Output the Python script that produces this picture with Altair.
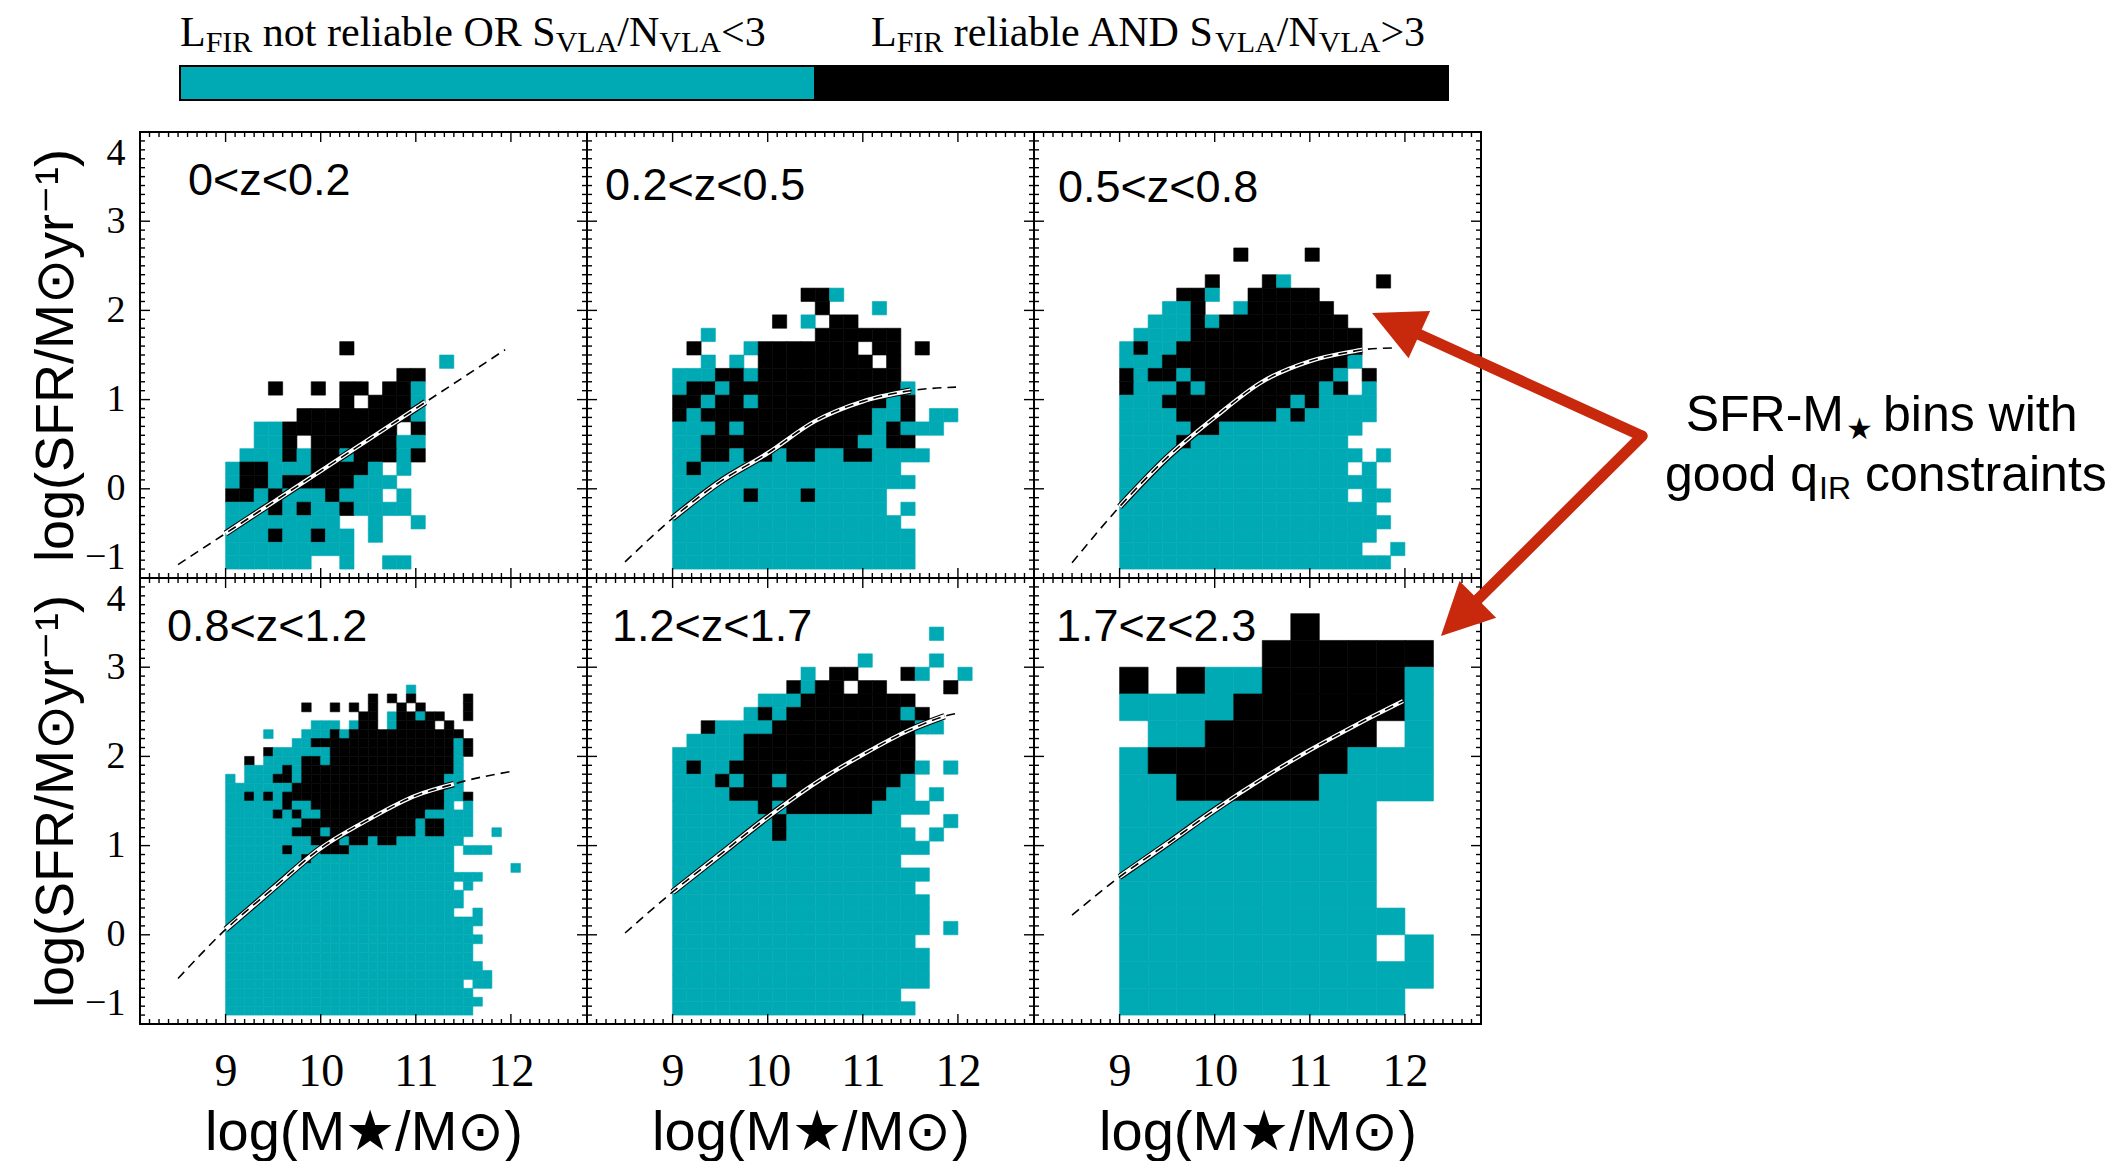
import altair as alt
import numpy as np
import pandas as pd

# ------------------------------------------------------------------
# values
# ------------------------------------------------------------------
status_names = ["L_FIR not reliable OR S/N<3", "L_FIR reliable AND S/N>3"]
status_colors = ["#00aab4", "#000000"]

panel_labels = ["0<z<0.2", "0.2<z<0.5", "0.5<z<0.8",
                "0.8<z<1.2", "1.2<z<1.7", "1.7<z<2.3"]

# SFR-M* bins: lower-left corner of the grid and bin size (dex) per panel
bin_x0 = [9.0, 9.0, 9.0, 9.0, 9.0, 9.0]
bin_y0 = [-0.9, -0.9, -0.9, -0.9, -0.9, -0.9]
bin_size = [0.15, 0.15, 0.15, 0.10, 0.15, 0.30]

# bin status, top row first: c = cyan (not reliable), k = black (reliable), . = empty
grid_z1 = [
    "........k.......",
    "...............c",
    "............kk..",
    "...k..k.kk.kkc..",
    "........k.kkkc..",
    ".....kkkkkkkkc..",
    "..cckkkkkkkk.k..",
    "..cck.kkkkkkcc..",
    ".ccckckkckkkck..",
    "ckkccckkkkc.c...",
    "ckkckkkkkccc....",
    "kkckccckccc.c...",
    "ccckckcckcccc...",
    "cccccccc..c..c..",
    "ccckcckcc.c.....",
    "ccccccccc.......",
    "cccccc..c..cc...",
]
grid_z2 = [
    ".........kkc........",
    "..........k...c.....",
    ".......k.c.kk.......",
    "..c.......kkkkkk....",
    ".k...ckkkkkkk.kk.k..",
    "..c.c.kkkkkkkk.k....",
    "ccckkckkkkkkkkkk....",
    "ckkckkkkkkkkkkkkc...",
    "kkckkckkkkkkkkkck...",
    "kckkkkkkkkkkkkcck.cc",
    "ccckckkkkkkkkkckccc.",
    "cckkkkkkkkkkkcckk...",
    "cckkckkckkcckkcccc..",
    "ckcccccccccccccc....",
    "ccccccccccccccccc...",
    "ccccckccckccccc.....",
    "ccccccccccccccc.c...",
    "cccccccccccccccc....",
    "ccccccccccccccccc...",
    "ccccccccccccccccc...",
    "ccccccccccccccccc...",
]
grid_z3 = [
    "........k....k......",
    "....................",
    "......k...kc......k.",
    "....kkc..kkkkk......",
    "...cck..ckkkkkk.....",
    "..ccckckkkkkkkkk....",
    ".cccckkkkkkkkkkkk...",
    "ckcckkkkkkkkkkkkk...",
    "ccckkkkkkkkkkkkkc...",
    "kckkckkkkkkkkkkc.k..",
    "kccckckkkkkkkkck.c..",
    "ccckkkkkkkkkckcccc..",
    "cccckkkkkkkckccccc..",
    "ccccckkcccccccccc...",
    "cccckccccccccccc....",
    "ccccccccccccccccc.c.",
    "cccccccccccccccc.c..",
    "cccccccccccccccccc..",
    "cccccccccccccccc.cc.",
    "cccccccccccccccccc..",
    "ccccccccccccccccccc.",
    "cccccccccccccccccc..",
    "ccccccccccccccccc..c",
    "ccccccccccccccccccc.",
]
grid_z4 = [
    "...................c............",
    "...............k.k.k.....k......",
    "........k..k.k.k..k.k....k......",
    "..............kk.ckkckk..k......",
    ".........ccc.ckk.ckkkk.k........",
    "....c...ccckckkkkkkkkkkkk.......",
    ".......cckkkkkkkkkkkkkkkck......",
    "....kcccccckkkkkkkkkkkkkck......",
    "..k.cccckkckkkkkkkkkkkkkc.......",
    "..cccckckkkkkkkkkkkkkkkkc.......",
    "c.ccckkckkkkkkkkkkkkkkkcc.......",
    "ccccccckkkkkkkkkkkkkkkkcc.......",
    "cckckckkkkkkkkkkkkkkkkkcck......",
    "cccccckcckkkkkkkkkkkkkkc.c......",
    "ccccckckcckkkkkkkkkkkccccc......",
    "cccccccckkkkkkkkkkkkckkccc......",
    "ccccccckkkckkkkkkkkkckkccc..c...",
    "ccccccccckkkckkckkccccccc.......",
    "cccccckccckkkccccccccccc.ccc....",
    "cccccccckccccccccccccccc........",
    "cccccccccccccccccccccccc......c.",
    "ccccccccccccccccccccccccccc.....",
    "cccccccccccccccccccccccc.c......",
    "ccccccccccccccccccccccccc.......",
    "ccccccccccccccccccccccccc.......",
    "cccccccccccccccccccccccc..c.....",
    "ccccccccccccccccccccccccccc.....",
    "cccccccccccccccccccccccccc......",
    "ccccccccccccccccccccccccccc.....",
    "cccccccccccccccccccccccccc......",
    "cccccccccccccccccccccccccc......",
    "ccccccccccccccccccccccccccc.....",
    "cccccccccccccccccccccccccccc....",
    "ccccccccccccccccccccccccc.cc....",
    "cccccccccccccccccccccccccc......",
    "ccccccccccccccccccccccccccc.....",
    "cccccccccccccccccccccccccc......",
]
grid_z5 = [
    "..................c..",
    ".....................",
    ".............c....c..",
    ".........c.kk...kc..c",
    "........kckk.kk....k.",
    "......ccckkkkkkkk....",
    ".....ckckkkkkkkkck...",
    "..kcccckkkkkkkkkkcc..",
    ".cccckkkkkkkkkkkk....",
    "ccccckkkkkkkkkkkk....",
    "ckcckkkkkkkkkkkkkc.c.",
    "ccckckkckkkkkkkkc....",
    "cccckkkkkkkkkkkcc.c..",
    "cccccckckkkkkkcccc...",
    "ccccccckcccccccc...c.",
    "ccccccckccccccccc.c..",
    "cccccccccccccccccc...",
    "cccccccccccccccc.....",
    "cccccccccccccccccc...",
    "ccccccccccccccccc....",
    "cccccccccccccccccc...",
    "cccccccccccccccccc...",
    "cccccccccccccccccc.c.",
    "ccccccccccccccccc....",
    "cccccccccccccccccc...",
    "cccccccccccccccccc...",
    "cccccccccccccccccc...",
    "cccccccccccccccc.....",
    "ccccccccccccccccc....",
]
grid_z6 = [
    "......k....",
    ".....kkkkkk",
    "k.kcckkkkkc",
    "cccckkkkkkc",
    ".cckkkkkk.c",
    "ckkkkkkkccc",
    "cckkkkkcccc",
    "ccccccccc..",
    "ccccccccc..",
    "ccccccccc..",
    "ccccccccc..",
    "cccccccccc.",
    "ccccccccc.c",
    "ccccccccccc",
    "cccccccccc.",
]

# main-sequence curves (dashed)
ms_x_z1 = [8.5, 9.0, 9.5, 10.0, 10.5, 11.0, 11.1, 11.5, 11.94]
ms_y_z1 = [-0.85, -0.50, -0.15, 0.20, 0.55, 0.90, 0.97, 1.25, 1.56]
ms_x_z2 = [8.5, 9.0, 9.5, 10.0, 10.5, 11.0, 11.5, 11.98]
ms_y_z2 = [-0.82, -0.33, 0.08, 0.40, 0.76, 0.98, 1.10, 1.14]
ms_x_z3 = [8.5, 9.0, 9.5, 10.0, 10.5, 11.0, 11.5, 11.55, 11.89]
ms_y_z3 = [-0.83, -0.20, 0.35, 0.80, 1.20, 1.43, 1.55, 1.56, 1.58]
ms_x_z4 = [8.5, 9.0, 9.5, 10.0, 10.5, 11.0, 11.4, 11.5, 12.0]
ms_y_z4 = [-0.49, 0.06, 0.52, 0.97, 1.29, 1.56, 1.69, 1.72, 1.83]
ms_x_z5 = [8.5, 9.0, 9.5, 10.0, 10.5, 11.0, 11.5, 11.86, 11.98]
ms_y_z5 = [0.02, 0.48, 0.90, 1.32, 1.70, 2.02, 2.30, 2.45, 2.48]
ms_x_z6 = [8.5, 9.0, 9.5, 10.0, 10.5, 11.0, 11.5, 11.98]
ms_y_z6 = [0.22, 0.65, 1.02, 1.40, 1.75, 2.07, 2.36, 2.62]
# range over which the curve is highlighted (white band)
ms_white_from = [9.0, 9.0, 9.0, 9.0, 9.0, 9.0]
ms_white_to = [11.1, 11.5, 11.55, 11.4, 11.86, 11.98]

x_tick_labels = [9, 10, 11, 12]
y_tick_labels = [-1, 0, 1, 2, 3, 4]

legend_left = [("L", 0), ("FIR", 1), (" not reliable OR S", 0), ("VLA", 1),
               ("/N", 0), ("VLA", 1), ("<3", 0)]
legend_right = [("L", 0), ("FIR", 1), (" reliable AND S", 0), ("VLA", 1),
                ("/N", 0), ("VLA", 1), (">3", 0)]

GRIDS = [grid_z1, grid_z2, grid_z3, grid_z4, grid_z5, grid_z6]
MS_X = [ms_x_z1, ms_x_z2, ms_x_z3, ms_x_z4, ms_x_z5, ms_x_z6]
MS_Y = [ms_y_z1, ms_y_z2, ms_y_z3, ms_y_z4, ms_y_z5, ms_y_z6]

# ------------------------------------------------------------------
# layout / style constants
# ------------------------------------------------------------------
RED = "#c8280c"
PW, PH = 447, 446
PADL = 28
PANEL_LEFT = 140          # page x of the first panel (origin of the left block)
ANN_X0 = 1300             # page x of the annotation block
GRID_RIGHT = PANEL_LEFT + 3 * PW + 1
SERIF = "Liberation Serif"
SANS = "Liberation Sans"
LABEL_POS = [(48, 63), (18, 68), (24, 70), (27, 63), (25, 63), (22, 63)]
# Times / Liberation Serif advance widths (1/1000 em) for the legend text
TIMES_W = {" ": 250, "a": 444, "b": 500, "e": 444, "i": 278, "l": 278, "n": 500,
           "o": 500, "r": 333, "t": 278, "A": 722, "D": 722, "F": 556, "I": 333,
           "L": 611, "N": 722, "O": 722, "R": 667, "S": 556, "V": 722, "/": 278,
           "<": 564, ">": 564, "3": 500}

XS = alt.Scale(domain=[8.1, 12.8], nice=False, zero=False)
YS = alt.Scale(domain=[-1, 4], nice=False, zero=False)
CS = alt.Scale(domain=status_names, range=status_colors)

X_AXIS = alt.Axis(values=x_tick_labels, ticks=False, tickSize=0, domain=False, grid=False,
                  labelFont=SERIF, labelFontSize=46, labelColor="black",
                  labelPadding=25, labelOverlap=False, labelFlush=False,
                  title="log(M★/M⊙)", titleFont=SANS, titleFontSize=56,
                  titleFontWeight="normal", titleColor="black", titlePadding=11)
Y_AXIS = alt.Axis(values=y_tick_labels, ticks=False, tickSize=0, domain=False, grid=False,
                  labelFont=SERIF, labelFontSize=38, labelColor="black",
                  labelPadding=15, labelOverlap=False, labelFlush=True,
                  labelFlushOffset=-2,
                  title="log(SFR/M⊙yr⁻¹)", titleFont=SANS, titleFontSize=54,
                  titleFontWeight="normal", titleColor="black", titlePadding=1)

ONE = pd.DataFrame({"o": [0]})


def cell_table(grid, x0, y0, size):
    recs = []
    n = len(grid)
    for i, line in enumerate(grid):
        r = n - 1 - i
        for c, ch in enumerate(line):
            if ch == ".":
                continue
            recs.append({"m0": x0 + c * size, "m1": x0 + (c + 1) * size,
                         "s0": y0 + r * size, "s1": y0 + (r + 1) * size,
                         "flag": status_names[0] if ch == "c" else status_names[1]})
    return pd.DataFrame(recs)


def txt(s, x, y, size, font, align="left", color="black"):
    return alt.Chart(ONE).mark_text(text=s, align=align, baseline="alphabetic",
                                    font=font, fontSize=size, color=color).encode(
        x=alt.value(x), y=alt.value(y))


minor_x = [round(v, 1) for v in np.arange(8.2, 12.75, 0.1) if abs(v - round(v)) > 1e-6]
minor_y = [round(v, 1) for v in np.arange(-0.9, 3.95, 0.1) if abs(v - round(v)) > 1e-6]
major_x = [9, 10, 11, 12]
major_y = [0, 1, 2, 3]
TW = 1.4   # tick stroke width
TI = 0.7   # tick inset so that ticks stay inside the frame


def panel(k):
    row, col = divmod(k, 3)
    xa = X_AXIS if row == 1 else None
    ya = Y_AXIS if col == 0 else None

    def X(f):
        return alt.X(f"{f}:Q", scale=XS, axis=xa)

    def Y(f):
        return alt.Y(f"{f}:Q", scale=YS, axis=ya)

    cells = cell_table(GRIDS[k], bin_x0[k], bin_y0[k], bin_size[k])
    rect = alt.Chart(cells).mark_rect(strokeWidth=0.6).encode(
        x=X("m0"), x2="m1", y=Y("s0"), y2="s1",
        color=alt.Color("flag:N", scale=CS, legend=None),
        stroke=alt.Stroke("flag:N", scale=CS, legend=None))

    cur = pd.DataFrame({"m": MS_X[k], "s": MS_Y[k]})
    wh = cur[(cur.m >= ms_white_from[k] - 1e-9) & (cur.m <= ms_white_to[k] + 1e-9)]
    outline = alt.Chart(wh).mark_line(color="black", strokeWidth=6.4, interpolate="monotone").encode(
        x=X("m"), y=Y("s"))
    white = alt.Chart(wh).mark_line(color="white", strokeWidth=4.2, interpolate="monotone").encode(
        x=X("m"), y=Y("s"))
    dash = alt.Chart(cur).mark_line(color="black", strokeWidth=1.6, strokeDash=[9, 6],
                                    interpolate="monotone").encode(x=X("m"), y=Y("s"))

    ticks = []
    for vals, ln in ((major_x, 10), (minor_x, 5)):
        d = pd.DataFrame({"m": vals})
        ticks.append(alt.Chart(d).mark_rule(color="black", strokeWidth=TW).encode(
            x=X("m"), y=alt.value(PH - TI), y2=alt.value(PH - ln)))
        ticks.append(alt.Chart(d).mark_rule(color="black", strokeWidth=TW).encode(
            x=X("m"), y=alt.value(TI), y2=alt.value(ln)))
    for vals, ln in ((major_y, 10), (minor_y, 5)):
        d = pd.DataFrame({"s": vals})
        ticks.append(alt.Chart(d).mark_rule(color="black", strokeWidth=TW).encode(
            y=Y("s"), x=alt.value(TI), x2=alt.value(ln)))
        ticks.append(alt.Chart(d).mark_rule(color="black", strokeWidth=TW).encode(
            y=Y("s"), x=alt.value(PW - TI), x2=alt.value(PW - ln)))

    lab = txt(panel_labels[k], LABEL_POS[k][0], LABEL_POS[k][1], 45, SANS)

    return alt.layer(rect, outline, white, dash, *ticks, lab).properties(
        width=PW, height=PH, view=alt.ViewBackground(stroke="black", strokeWidth=2))


# ---------------- legend bar on top ----------------
bar = pd.DataFrame({"flag": status_names, "lo": [0, 1], "hi": [1, 2]})
LX = alt.Scale(domain=[0, 2], range=[180 - PANEL_LEFT, 1448 - PANEL_LEFT])
bar_rect = alt.Chart(bar).mark_rect().encode(
    x=alt.X("lo:Q", scale=LX, axis=None), x2="hi",
    y=alt.value(65), y2=alt.value(99),
    color=alt.Color("flag:N", scale=CS, legend=None))
bar_border = alt.Chart(pd.DataFrame({"lo": [0], "hi": [2]})).mark_rect(
    fillOpacity=0, stroke="black", strokeWidth=2).encode(
    x=alt.X("lo:Q", scale=LX, axis=None), x2="hi",
    y=alt.value(65), y2=alt.value(99))


def serif_pieces(pieces, x_start, y_main, y_sub, fs_main, fs_sub):
    out = []
    curx = x_start
    for s, sub in pieces:
        fs = fs_sub if sub else fs_main
        lead = len(s) - len(s.lstrip(" "))
        out.append(txt(s.strip(" "), curx + lead * 0.25 * fs - PANEL_LEFT,
                       y_sub if sub else y_main, fs, SERIF))
        curx += sum(TIMES_W.get(ch, 500) for ch in s) / 1000.0 * fs
    return out


legend_txt = serif_pieces(legend_left, 180, 45, 51, 42, 30) + \
    serif_pieces(legend_right, 871, 45, 51, 42, 30)
legend = alt.layer(bar_rect, bar_border, *legend_txt).properties(
    width=1300, height=120, view=alt.ViewBackground(stroke="transparent"))

# ---------------- annotation (arrows + text) ----------------
V = (1641, 435)
H1 = (1394.7, 322.8)
H2 = (1458.4, 616.7)
HEAD = "M0,-1L1,1L-1,1Z"


def seg(a, b):
    return alt.Chart(ONE).mark_rule(color=RED, strokeWidth=11, strokeCap="round").encode(
        x=alt.value(a[0] - ANN_X0), y=alt.value(a[1]),
        x2=alt.value(b[0] - ANN_X0), y2=alt.value(b[1]))


def head(c, ang):
    return alt.Chart(ONE).mark_point(shape=HEAD, size=2700, angle=ang, filled=True,
                                     color=RED, opacity=1, strokeWidth=0).encode(
        x=alt.value(c[0] - ANN_X0), y=alt.value(c[1]))


ann_layers = [
    seg(V, H1), seg(V, H2), head(H1, 294.5), head(H2, 225.2),
    txt("SFR-M", 1843 - ANN_X0, 430, 50, SANS, align="right"),
    txt("★", 1845 - ANN_X0, 438, 30, SANS),
    txt("bins with", 1882 - ANN_X0, 430, 50, SANS),
    txt("good q", 1817 - ANN_X0, 490, 50, SANS, align="right"),
    txt("IR", 1818 - ANN_X0, 498, 32, SANS),
    txt("constraints", 1864 - ANN_X0, 490, 50, SANS),
]
annot = alt.layer(*ann_layers).properties(
    width=810, height=700, view=alt.ViewBackground(stroke="transparent"))

# ---------------- assemble ----------------
grid = alt.concat(panel(0), panel(1), panel(2), panel(3), panel(4), panel(5),
                  columns=3, spacing=-2, align="none")
left = alt.vconcat(legend, grid, spacing=9)

chart = alt.concat(left, annot, columns=2, spacing=ANN_X0 - GRID_RIGHT, align="none").properties(
    padding={"left": PADL, "top": 0, "right": 0, "bottom": 0},
    background="white",
).configure_view(stroke="transparent")

chart.save("out.html", embed_options={"renderer": "svg", "actions": False})
